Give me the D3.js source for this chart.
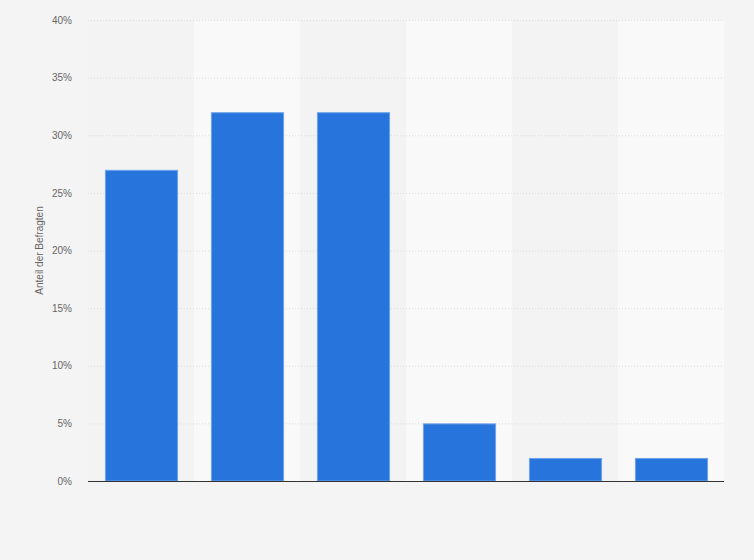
<!DOCTYPE html>
<html><head><meta charset="utf-8">
<script src="https://cdn.jsdelivr.net/npm/d3@7"></script>
<style>body{margin:0;background:#f4f4f4;}svg{display:block;font-family:"Liberation Sans",Arial,sans-serif;}</style>
</head><body>
<svg id="c" width="754" height="560"></svg>
<script>
const categories = ["A","B","C","D","E","F"];
const values = [27, 32, 32, 5, 2, 2];
const yTicks = [0, 5, 10, 15, 20, 25, 30, 35, 40];
const yTitle = "Anteil der Befragten";

const svg = d3.select("#c");
const m = {l: 88, r: 724, t: 20, b: 481};
svg.append("rect").attr("width",754).attr("height",560).attr("fill","#f4f4f4");

const x = d3.scaleBand().domain(categories).range([m.l, m.r]).paddingInner(0.31).paddingOuter(0.155);
const y = d3.scaleLinear().domain([0, 40]).range([m.b, m.t]);

// alternating bands
const step = x.step();
svg.append("g").selectAll("rect").data(categories).join("rect")
  .attr("x", d => x(d) - x.step()*x.paddingOuter())
  .attr("y", m.t).attr("width", step).attr("height", m.b - m.t)
  .attr("fill", (d,i) => i % 2 ? "#f9f9f9" : "#f3f3f3");

// grid
svg.append("g").selectAll("line").data(yTicks.filter(t => t > 0)).join("line")
  .attr("x1", m.l).attr("x2", m.r).attr("y1", d => y(d) + 0.5).attr("y2", d => y(d) + 0.5)
  .attr("stroke", "#dcdcdc").attr("stroke-dasharray", "1,2");

// y labels
const yAxis = d3.axisLeft(y).tickValues(yTicks).tickFormat(d => d + "%").tickSize(0).tickPadding(0);
const ga = svg.append("g").attr("transform", `translate(${m.l - 16},0)`).call(yAxis);
ga.select(".domain").remove();
ga.selectAll("text").attr("fill", "#666").attr("font-size", 10).attr("font-family", '"Liberation Sans",Arial,sans-serif');

// bars
svg.append("g").selectAll("rect").data(values).join("rect")
  .attr("x", (d,i) => x(categories[i]) + 1)
  .attr("y", d => y(d) + 0.5)
  .attr("width", x.bandwidth() - 1)
  .attr("height", d => y(0) - y(d) - 0.5)
  .attr("fill", "#2775dc")
  .attr("stroke", "#6fa3ea").attr("stroke-width", 1);

// baseline
svg.append("line").attr("x1", m.l).attr("x2", m.r).attr("y1", y(0) + 0.5).attr("y2", y(0) + 0.5)
  .attr("stroke", "#333").attr("stroke-width", 1.2);

// y title
svg.append("text").attr("transform", `translate(43,${(m.t + m.b)/2}) rotate(-90)`)
  .attr("text-anchor", "middle").attr("fill", "#666").attr("font-size", 10).text(yTitle);
</script>
</body></html>
